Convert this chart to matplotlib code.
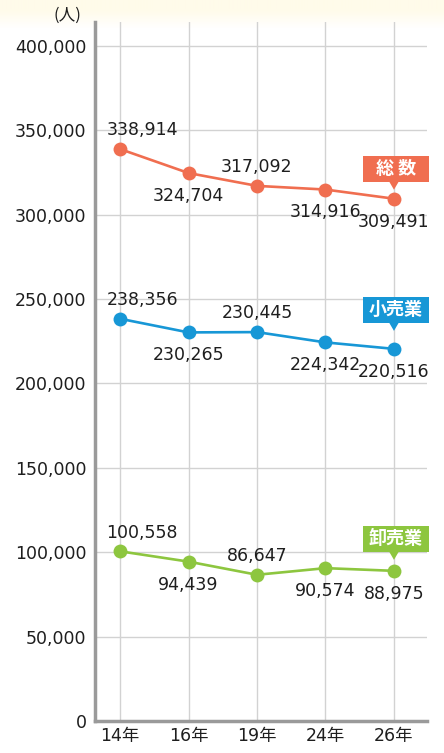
import numpy as np
import matplotlib
matplotlib.use('Agg')
import matplotlib.pyplot as plt
from matplotlib.patches import Rectangle, Polygon

plt.rcParams['font.family'] = ['DejaVu Sans', 'Noto Sans CJK JP']

# データ
years = ['14年', '16年', '19年', '24年', '26年']
total = [338914, 324704, 317092, 314916, 309491]
retail = [238356, 230265, 230445, 224342, 220516]
wholesale = [100558, 94439, 86647, 90574, 88975]
# ラベルの上下 (1 = 上, -1 = 下)
label_side = [1, -1, 1, -1, -1]

series = [
    ('総 数', total, '#f06e50', 17),
    ('小売業', retail, '#1797d6', 26),
    ('卸売業', wholesale, '#8dc63f', 19),
]

W, H = 444, 753
fig = plt.figure(figsize=(W / 100, H / 100), dpi=100)

# 背景 (上部クリーム色のグラデーション)
bg = fig.add_axes([0, 0, 1, 1], zorder=-5)
rows = np.linspace(0, 1, H)
fade = np.clip((rows * H - 10) / 18, 0, 1)
cream = np.array([255, 251, 234]) / 255
img = cream[None, :] * (1 - fade[:, None]) + np.ones(3)[None, :] * fade[:, None]
bg.imshow(img[:, None, :].repeat(2, axis=1), aspect='auto', extent=[0, 1, 0, 1], origin='upper')
bg.axis('off')

ax = fig.add_axes([95 / W, 1 - 721 / H, (427 - 95) / W, (721 - 22) / H])
ax.set_facecolor('none')
x = np.arange(len(years))
ax.set_xlim(-25 / 68.4, 4 + 33 / 68.4)
ax.set_ylim(0, 414200)

ax.set_yticks(np.arange(0, 400001, 50000))
ax.set_yticklabels([f'{v:,}' for v in range(0, 400001, 50000)])
ax.set_xticks(x)
ax.set_xticklabels(years)
ax.tick_params(axis='both', length=0, labelsize=12.5, colors='#1e1e1e')
ax.tick_params(axis='y', pad=6)
ax.tick_params(axis='x', pad=4)

ax.grid(True, color='#d2d2d2', linewidth=1)
ax.set_axisbelow(True)
for s in ['top', 'right']:
    ax.spines[s].set_visible(False)
for s in ['left', 'bottom']:
    ax.spines[s].set_color('#9a9a9a')
    ax.spines[s].set_linewidth(2.5)

for name, vals, color, box_gap in series:
    ax.plot(x, vals, color=color, linewidth=1.9, marker='o', markersize=10,
            markeredgewidth=0, zorder=3)
    for i, (xi, v) in enumerate(zip(x, vals)):
        dx = 16 if i == 0 else 0
        dy = 13.5 if label_side[i] > 0 else -16.5
        ax.annotate(f'{v:,}', (xi, v), xytext=(dx, dy), textcoords='offset points',
                    ha='center', va='center', fontsize=12.5, color='#1e1e1e', zorder=4)

    # 系列名ボックス (ピクセル単位で配置)
    px, py = ax.transData.transform((x[-1], vals[-1]))
    bw, bh = 66, 26
    bx0, by0 = px - 31, py + box_gap
    fig.add_artist(Rectangle((bx0 / W, by0 / H), bw / W, bh / H, transform=fig.transFigure,
                             fc=color, ec='none', zorder=5))
    fig.add_artist(Polygon([((px - 5) / W, (by0 + 0.5) / H), ((px + 5) / W, (by0 + 0.5) / H),
                            (px / W, (by0 - 8) / H)], closed=True, transform=fig.transFigure,
                           fc=color, ec='none', zorder=5))
    fig.text((bx0 + bw / 2) / W, (by0 + bh / 2) / H, name, ha='center', va='center',
             fontsize=13, color='white', fontweight='bold', family=['Noto Sans CJK JP'],
             zorder=6)

fig.text(67 / W, 1 - 15 / H, '(人)', ha='center', va='center', fontsize=12,
         color='#1e1e1e', family=['Noto Sans CJK JP'])

fig.savefig('out.png', dpi=100)
